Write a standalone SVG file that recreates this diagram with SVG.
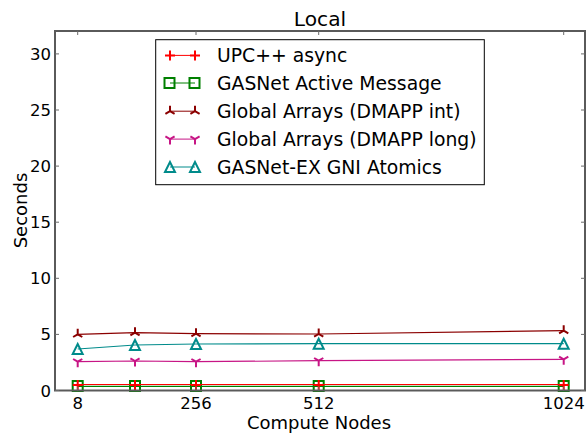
<svg xmlns="http://www.w3.org/2000/svg" width="587" height="433" viewBox="0 0 587 433">
<style>
text{font-family:"DejaVu Sans","Liberation Sans",sans-serif;fill:#000}
.tick{font-size:16.5px}
.lab{font-size:18px}
.leg{font-size:18.8px}
.spine{stroke:#5a5a5a;stroke-width:2;fill:none}
.tk{stroke:#6a6a6a;stroke-width:1;fill:none}
.l{fill:none;stroke-width:1.2}
</style>
<defs>
<g id="mPlus"><path d="M-5 0H5M0 -5V5" stroke="#ff0000" stroke-width="2" fill="none"/></g>
<g id="mSq"><rect x="-5" y="-5" width="10" height="10" stroke="#008000" stroke-width="2" fill="none"/></g>
<g id="mTriUp"><path d="M0 0V-5.5M0 0L-4.6 2.7M0 0L4.6 2.7" stroke="#8b0000" stroke-width="2" fill="none"/></g>
<g id="mTriDn"><path d="M0 0V5.5M0 0L-4.6 -2.7M0 0L4.6 -2.7" stroke="#c71585" stroke-width="2" fill="none"/></g>
<g id="mTri"><path d="M0 -5L-5 5H5Z" stroke="#008b8b" stroke-width="2" fill="none" stroke-linejoin="miter"/></g>
</defs>
<rect width="587" height="433" fill="#fff"/>

<g id="series">
<g id="ga-int">
<polyline class="l" stroke="#8b0000" points="77.7,334.3 135,332.7 196,333.7 318.7,334 563.7,330.7"/>
<use href="#mTriUp" x="77.7" y="334.3"/><use href="#mTriUp" x="135" y="332.7"/><use href="#mTriUp" x="196" y="333.7"/><use href="#mTriUp" x="318.7" y="334"/><use href="#mTriUp" x="563.7" y="330.7"/>
</g>
<g id="gasnet-ex">
<polyline class="l" stroke="#008b8b" points="77.7,349 135,345 196,344 318.7,343.7 563.7,343.7"/>
<use href="#mTri" x="77.7" y="349"/><use href="#mTri" x="135" y="345"/><use href="#mTri" x="196" y="344"/><use href="#mTri" x="318.7" y="343.7"/><use href="#mTri" x="563.7" y="343.7"/>
</g>
<g id="ga-long">
<polyline class="l" stroke="#c71585" points="77.7,361.7 135,361 196,361.7 318.7,360.7 563.7,359.3"/>
<use href="#mTriDn" x="77.7" y="361.7"/><use href="#mTriDn" x="135" y="361"/><use href="#mTriDn" x="196" y="361.7"/><use href="#mTriDn" x="318.7" y="360.7"/><use href="#mTriDn" x="563.7" y="359.3"/>
</g>
<g id="gasnet-am">
<polyline class="l" stroke="#008000" points="77.7,386.3 135,386.3 196,386.3 318.7,386.3 563.7,386.3"/>
<use href="#mSq" x="77.7" y="386"/><use href="#mSq" x="135" y="386"/><use href="#mSq" x="196" y="386"/><use href="#mSq" x="318.7" y="386"/><use href="#mSq" x="563.7" y="386"/>
</g>
<g id="upcxx">
<polyline class="l" stroke="#ff0000" points="77.7,384.5 135,384.5 196,384.5 318.7,384.5 563.7,384.5"/>
<use href="#mPlus" x="77.7" y="385"/><use href="#mPlus" x="135" y="385"/><use href="#mPlus" x="196" y="385"/><use href="#mPlus" x="318.7" y="385"/><use href="#mPlus" x="563.7" y="385"/>
</g>
</g>

<g id="axes">
<rect class="spine" x="55" y="31" width="530" height="359.5"/>
<path class="tk" d="M77.7 390.5v-4M196 390.5v-4M318.7 390.5v-4M563.7 390.5v-4M77.7 31v4M196 31v4M318.7 31v4M563.7 31v4"/>
<path class="tk" d="M55 390.5h4M55 334.4h4M55 278.3h4M55 222.2h4M55 166.1h4M55 110h4M55 53.9h4M585 390.5h-4M585 334.4h-4M585 278.3h-4M585 222.2h-4M585 166.1h-4M585 110h-4M585 53.9h-4"/>
<g class="tick" text-anchor="end">
<text x="51" y="396.5">0</text>
<text x="51" y="340.4">5</text>
<text x="51" y="284.3">10</text>
<text x="51" y="228.2">15</text>
<text x="51" y="172.1">20</text>
<text x="51" y="116">25</text>
<text x="51" y="59.9">30</text>
</g>
<g class="tick" text-anchor="middle">
<text x="77.7" y="409.3">8</text>
<text x="196" y="409.3">256</text>
<text x="318.7" y="409.3">512</text>
<text x="563.7" y="409.3">1024</text>
</g>
<text class="lab" x="319" y="429.3" text-anchor="middle">Compute Nodes</text>
<text class="lab" transform="translate(26.5 210.5) rotate(-90)" text-anchor="middle">Seconds</text>
<text x="320" y="26" text-anchor="middle" font-size="20.2">Local</text>
</g>

<g id="legend">
<rect x="155.7" y="39.7" width="328.6" height="145" fill="#fff" stroke="#000" stroke-width="1"/>
<g id="leg-upcxx"><path d="M170 55.4H195" stroke="#ff0000" stroke-width="1"/><use href="#mPlus" x="170" y="55.4"/><use href="#mPlus" x="195" y="55.4"/><text class="leg" x="217" y="62.2">UPC++ async</text></g>
<g id="leg-am"><path d="M170 83H195" stroke="#008000" stroke-width="1"/><use href="#mSq" x="169.5" y="83"/><use href="#mSq" x="194.5" y="83"/><text class="leg" x="217" y="90.1">GASNet Active Message</text></g>
<g id="leg-int"><path d="M170 111.2H195" stroke="#8b0000" stroke-width="1"/><use href="#mTriUp" x="170" y="111.2"/><use href="#mTriUp" x="195" y="111.2"/><text class="leg" x="217" y="118">Global Arrays (DMAPP int)</text></g>
<g id="leg-long"><path d="M170 139.1H195" stroke="#c71585" stroke-width="1"/><use href="#mTriDn" x="170" y="139.1"/><use href="#mTriDn" x="195" y="139.1"/><text class="leg" x="217" y="145.9">Global Arrays (DMAPP long)</text></g>
<g id="leg-ex"><path d="M170 167H195" stroke="#008b8b" stroke-width="1"/><use href="#mTri" x="170" y="167"/><use href="#mTri" x="195" y="167"/><text class="leg" x="217" y="173.8">GASNet-EX GNI Atomics</text></g>
</g>
</svg>
